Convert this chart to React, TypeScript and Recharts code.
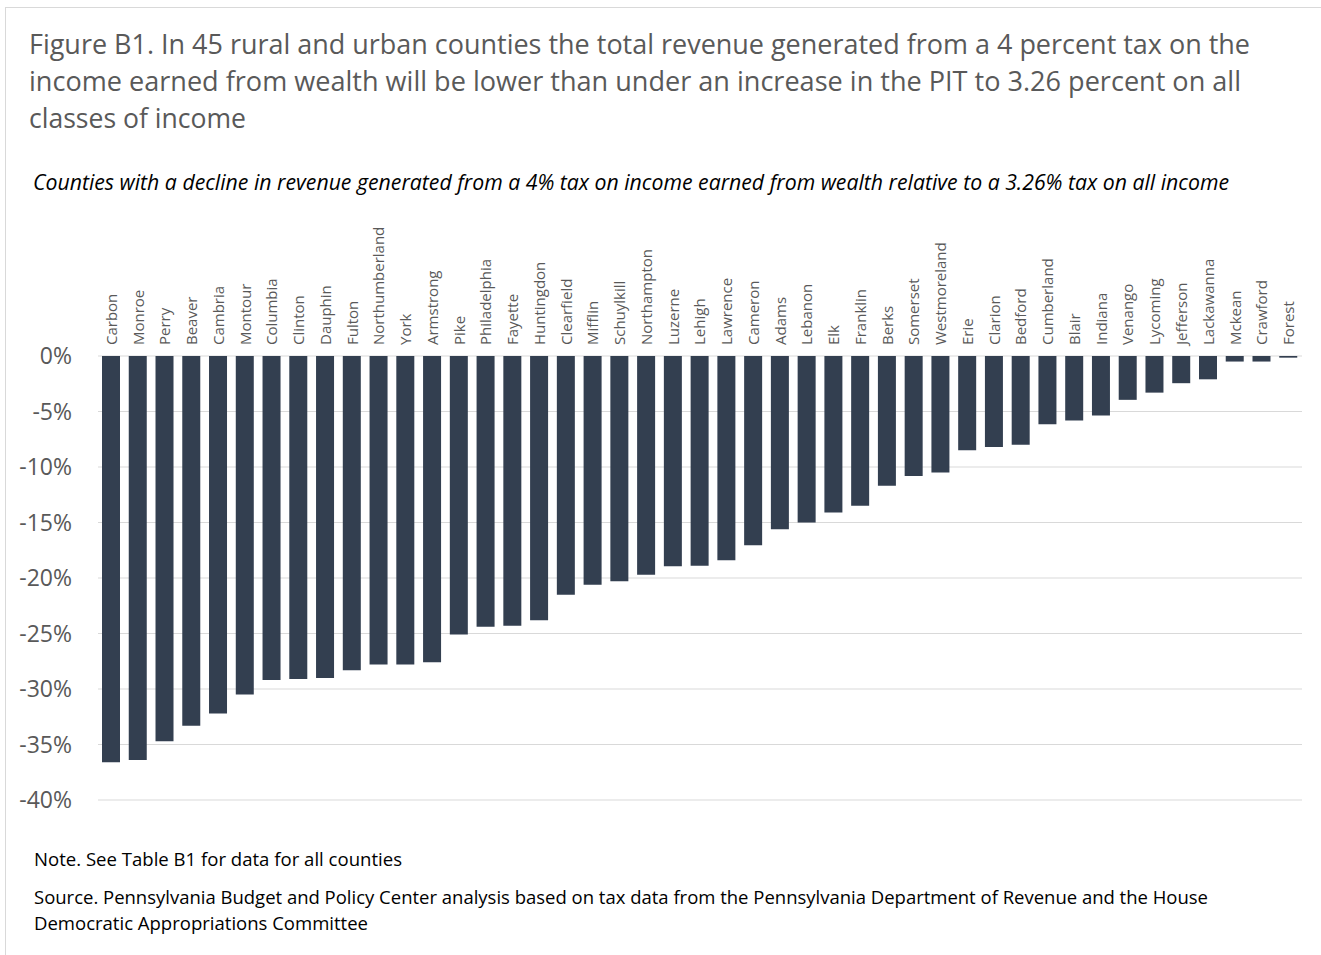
import React from 'react';
import { BarChart, Bar, XAxis, YAxis, CartesianGrid } from 'recharts';

const counties = [
  'Carbon', 'Monroe', 'Perry', 'Beaver', 'Cambria', 'Montour', 'Columbia', 'Clinton', 'Dauphin', 'Fulton',
  'Northumberland', 'York', 'Armstrong', 'Pike', 'Philadelphia', 'Fayette', 'Huntingdon', 'Clearfield', 'Mifflin', 'Schuylkill',
  'Northampton', 'Luzerne', 'Lehigh', 'Lawrence', 'Cameron', 'Adams', 'Lebanon', 'Elk', 'Franklin', 'Berks',
  'Somerset', 'Westmoreland', 'Erie', 'Clarion', 'Bedford', 'Cumberland', 'Blair', 'Indiana', 'Venango', 'Lycoming',
  'Jefferson', 'Lackawanna', 'Mckean', 'Crawford', 'Forest',
];

const revenueChange = [
  -36.6, -36.4, -34.7, -33.3, -32.2, -30.5, -29.2, -29.1, -29.0, -28.3,
  -27.8, -27.8, -27.6, -25.1, -24.4, -24.3, -23.8, -21.5, -20.6, -20.3,
  -19.7, -18.95, -18.9, -18.4, -17.05, -15.6, -15.0, -14.1, -13.5, -11.7,
  -10.8, -10.5, -8.5, -8.2, -8.0, -6.15, -5.8, -5.35, -3.95, -3.3,
  -2.45, -2.1, -0.5, -0.5, -0.15,
];

const yTicks = [0, -5, -10, -15, -20, -25, -30, -35, -40];

const titleLines = [
  'Figure B1. In 45 rural and urban counties the total revenue generated from a 4 percent tax on the',
  'income earned from wealth will be lower than under an increase in the PIT to 3.26 percent on all',
  'classes of income',
];
const titleWidths = [1221, 1212, 217];

const subtitle =
  'Counties with a decline in revenue generated from a 4% tax on income earned from wealth relative to a 3.26% tax on all income';

const noteText = 'Note. See Table B1 for data for all counties';
const sourceLines = [
  'Source. Pennsylvania Budget and Policy Center analysis based on tax data from the Pennsylvania Department of Revenue and the House',
  'Democratic Appropriations Committee',
];
const sourceWidths = [1174, 334];

const data = counties.map((county, i) => ({ county, value: revenueChange[i] }));

const FONT = "'Open Sans', sans-serif";

const XTick = (props: any) => {
  const { x, y, payload } = props;
  return (
    <text
      x={x}
      y={y}
      transform={`rotate(-90, ${x}, ${y})`}
      dy="0.36em"
      textAnchor="start"
      fill="#595959"
      fontSize={15}
      fontFamily={FONT}
    >
      {payload.value}
    </text>
  );
};

export default function App() {
  return (
    <div
      style={{
        position: 'absolute',
        left: 0,
        top: 0,
        width: 1321,
        height: 955,
        overflow: 'hidden',
        background: '#ffffff',
      }}
    >
      <div
        style={{
          position: 'absolute',
          left: 5,
          top: 7,
          width: 1400,
          height: 1000,
          border: '1px solid #d9d9d9',
          boxSizing: 'border-box',
        }}
      />
      <div style={{ position: 'absolute', left: 0, top: 0 }}>
        <BarChart
          width={1321}
          height={955}
          data={data}
          margin={{ top: 206, right: 19, bottom: 155, left: 0 }}
        >
          <CartesianGrid vertical={false} stroke="#d9d9d9" strokeWidth={1.2} />
          <XAxis
            dataKey="county"
            orientation="top"
            height={150}
            interval={0}
            axisLine={false}
            tickLine={false}
            tickSize={0}
            tickMargin={11}
            tick={<XTick />}
          />
          <YAxis
            type="number"
            domain={[-40, 0]}
            ticks={yTicks}
            width={98}
            axisLine={false}
            tickLine={false}
            tickSize={0}
            tickMargin={26}
            tickFormatter={(v: number) => `${v}%`}
            tick={{ fill: '#595959', fontSize: 23, fontFamily: FONT }}
          />
          <Bar dataKey="value" fill="#333f50" barSize={18} isAnimationActive={false} />
        </BarChart>
      </div>
      <svg
        width={1321}
        height={955}
        style={{ position: 'absolute', left: 0, top: 0, pointerEvents: 'none' }}
      >
        {titleLines.map((line, i) => (
          <text
            key={i}
            x={29}
            y={54 + i * 37}
            fill="#595959"
            fontSize={26.5}
            fontFamily={FONT}
            textLength={titleWidths[i]}
            lengthAdjust="spacingAndGlyphs"
          >
            {line}
          </text>
        ))}
        <text
          x={33}
          y={190}
          fill="#000000"
          fontSize={21}
          fontStyle="italic"
          fontFamily={FONT}
          textLength={1196}
          lengthAdjust="spacingAndGlyphs"
        >
          {subtitle}
        </text>
        <text
          x={34}
          y={866}
          fill="#000000"
          fontSize={18}
          fontFamily={FONT}
          textLength={368}
          lengthAdjust="spacingAndGlyphs"
        >
          {noteText}
        </text>
        {sourceLines.map((line, i) => (
          <text
            key={i}
            x={34}
            y={904 + i * 26}
            fill="#000000"
            fontSize={18}
            fontFamily={FONT}
            textLength={sourceWidths[i]}
            lengthAdjust="spacingAndGlyphs"
          >
            {line}
          </text>
        ))}
      </svg>
    </div>
  );
}
